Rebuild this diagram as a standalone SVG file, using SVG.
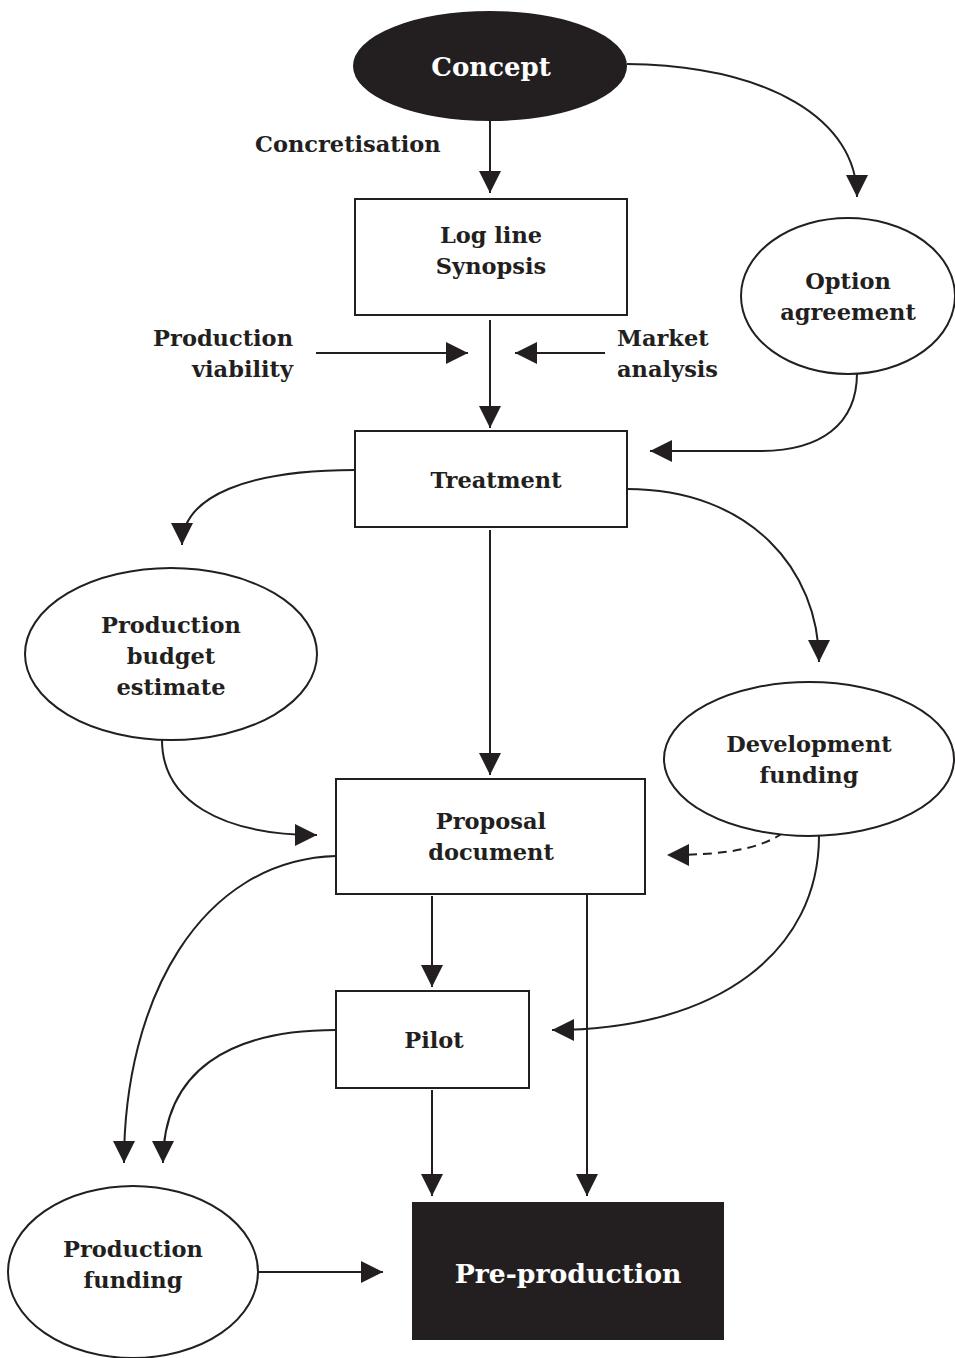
<svg xmlns="http://www.w3.org/2000/svg" width="955" height="1358" viewBox="0 0 955 1358">
  <defs>
    <style>
      .node { fill: #ffffff; stroke: #231f20; stroke-width: 2; }
      .dark { fill: #231f20; stroke: #231f20; stroke-width: 2; }
      .lbl { font-family: "DejaVu Serif", "Liberation Serif", serif; font-weight: bold; font-size: 22.5px; fill: #231f20; }
      .mid { text-anchor: middle; }
      .end { text-anchor: end; }
      .wlbl { font-family: "DejaVu Serif", "Liberation Serif", serif; font-weight: bold; fill: #ffffff; text-anchor: middle; }
      .conn { fill: none; stroke: #231f20; stroke-width: 2; marker-end: url(#arrow); }
      .dash { stroke-dasharray: 9 6; }
    </style>
    <marker id="arrow" markerUnits="userSpaceOnUse" markerWidth="24" markerHeight="24" viewBox="0 0 24 24" refX="22" refY="12" orient="auto">
      <path d="M0,1 L22,12 L0,23 Z" fill="#231f20"/>
    </marker>
  </defs>

  <rect width="955" height="1358" fill="#ffffff"/>

  <!-- connectors -->
  <g id="connectors">
    <path class="conn" d="M490,120 L490,193"/>
    <path class="conn" d="M490,320 L490,428"/>
    <path class="conn" d="M316,353 L468,353"/>
    <path class="conn" d="M605,353 L515,353"/>
    <path class="conn" d="M627,64 C770,66 857,120 857,197"/>
    <path class="conn" d="M857,373 C857,425 820,451 760,451 L650,451"/>
    <path class="conn" d="M355,470 C250,470 182,495 182,545"/>
    <path class="conn" d="M627,489 C750,489 819,570 819,662"/>
    <path class="conn" d="M490,530 L490,775"/>
    <path class="conn" d="M162,740 C162,800 220,835 317,835"/>
    <path class="conn dash" d="M783,833 C760,848 730,855 667,855"/>
    <path class="conn" d="M819,836 C819,950 720,1030 552,1030"/>
    <path class="conn" d="M336,856 C200,860 124,1000 124,1163"/>
    <path class="conn" d="M432,896 L432,987"/>
    <path class="conn" d="M587,894 L587,1196"/>
    <path class="conn" d="M336,1030 C230,1030 163,1070 163,1163"/>
    <path class="conn" d="M432,1090 L432,1196"/>
    <path class="conn" d="M258,1272 L383,1272"/>
  </g>

  <g id="concept">
    <ellipse class="dark" cx="490" cy="66" rx="136" ry="54"/>
    <text class="wlbl" x="491" y="76" font-size="26">Concept</text>
  </g>

  <g id="concretisation-label">
    <text class="lbl" x="255" y="152">Concretisation</text>
  </g>

  <g id="logline">
    <rect class="node" x="355" y="199" width="272" height="116"/>
    <text class="lbl mid" x="491" y="243">Log line</text>
    <text class="lbl mid" x="491" y="274">Synopsis</text>
  </g>

  <g id="production-viability">
    <text class="lbl end" x="293" y="346">Production</text>
    <text class="lbl end" x="293" y="377">viability</text>
  </g>

  <g id="market-analysis">
    <text class="lbl" x="617" y="346">Market</text>
    <text class="lbl" x="617" y="377">analysis</text>
  </g>

  <g id="option-agreement">
    <ellipse class="node" cx="848" cy="296" rx="107" ry="78"/>
    <text class="lbl mid" x="848" y="289">Option</text>
    <text class="lbl mid" x="848" y="320">agreement</text>
  </g>

  <g id="treatment">
    <rect class="node" x="355" y="431" width="272" height="96"/>
    <text class="lbl mid" x="496" y="488">Treatment</text>
  </g>

  <g id="production-budget-estimate">
    <ellipse class="node" cx="171" cy="654" rx="146" ry="86"/>
    <text class="lbl mid" x="171" y="633">Production</text>
    <text class="lbl mid" x="171" y="664">budget</text>
    <text class="lbl mid" x="171" y="695">estimate</text>
  </g>

  <g id="development-funding">
    <ellipse class="node" cx="809" cy="759" rx="145" ry="77"/>
    <text class="lbl mid" x="809" y="752">Development</text>
    <text class="lbl mid" x="809" y="783">funding</text>
  </g>

  <g id="proposal-document">
    <rect class="node" x="336" y="779" width="309" height="115"/>
    <text class="lbl mid" x="491" y="829">Proposal</text>
    <text class="lbl mid" x="491" y="860">document</text>
  </g>

  <g id="pilot">
    <rect class="node" x="336" y="991" width="193" height="97"/>
    <text class="lbl mid" x="434" y="1048">Pilot</text>
  </g>

  <g id="production-funding">
    <ellipse class="node" cx="133" cy="1272" rx="125" ry="86"/>
    <text class="lbl mid" x="133" y="1257">Production</text>
    <text class="lbl mid" x="133" y="1288">funding</text>
  </g>

  <g id="pre-production">
    <rect class="dark" x="413" y="1203" width="310" height="136"/>
    <text class="wlbl" x="568" y="1283" font-size="26.7">Pre-production</text>
  </g>
</svg>
